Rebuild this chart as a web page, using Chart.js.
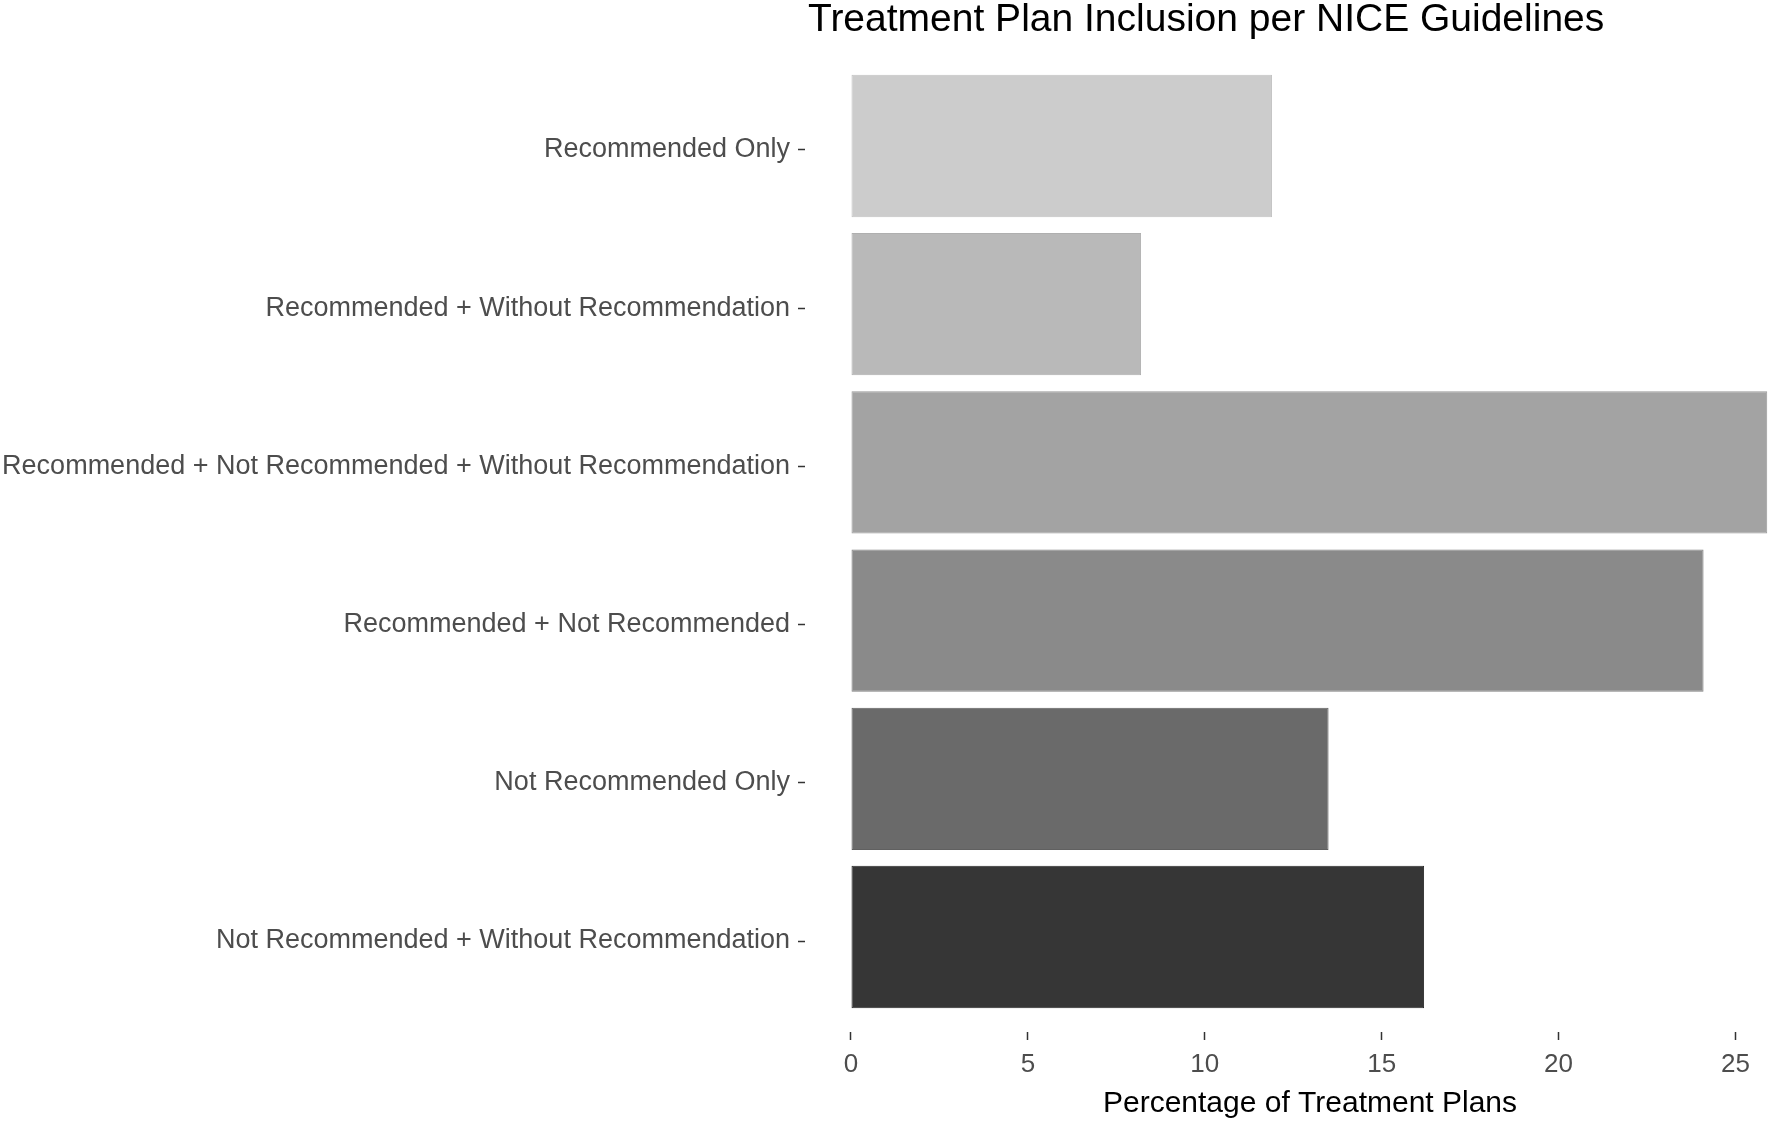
<!DOCTYPE html>
<html>
<head>
<meta charset="utf-8">
<script src="https://cdn.jsdelivr.net/npm/chart.js@4/dist/chart.umd.min.js"></script>
<style>
    html, body { margin: 0; padding: 0; background: #fff; overflow: hidden; }
    #wrap { width: 1815px; height: 1122px; }
</style>
</head>
<body>
<div id="wrap"><canvas id="chart"></canvas></div>
<script>
//Horizontal bars, ggplot look. The panel runs past the right edge of
//the window (the reference is cropped there), so the canvas is wider
//than the page and the overflow is hidden.

const CATEGORIES = [
    'Recommended Only',
    'Recommended + Without Recommendation',
    'Recommended + Not Recommended + Without Recommendation',
    'Recommended + Not Recommended',
    'Not Recommended Only',
    'Not Recommended + Without Recommendation',
];
const PERCENTAGES = [11.9, 8.2, 25.9, 24.1, 13.5, 16.2];
const BAR_COLORS  = ['#cccccc', '#b9b9b9', '#a3a3a3', '#8a8a8a', '#6a6a6a', '#363636'];
const EDGE_COLORS = ['#c2c2c2', '#afafaf', '#999999', '#808080', '#606060', '#2a2a2a'];
const X_TICKS     = [0, 5, 10, 15, 20, 25];

const TITLE   = 'Treatment Plan Inclusion per NICE Guidelines';
const X_TITLE = 'Percentage of Treatment Plans';
const FONT    = '"Liberation Sans", Arial, sans-serif';

//ggplot puts the title flush with the panel's left edge
const panelTitle = {
    id: 'panel-title',
    afterDraw(chart)
    {
        const ctx = chart.ctx;
        ctx.save();
        ctx.fillStyle = '#000';
        ctx.font = `39px ${FONT}`;
        ctx.textAlign = 'left';
        ctx.textBaseline = 'alphabetic';
        ctx.fillText(TITLE, chart.chartArea.left + 3, 31);
        ctx.restore();
    },
};

//Category positions 1..6 on a linear scale so the ends get ggplot's
//0.6 expansion instead of Chart.js' 0.5 offset. The label axis sits a
//hair lower than the bar axis, as in the reference.
const Y_MIN = 0.4;
const Y_MAX = 6.6;
const LABEL_SHIFT = 0.025;
const categoryTicks = (axis) =>
{
    axis.ticks = CATEGORIES.map((_, i) => ({ value: i + 1 }));
};

new Chart(document.getElementById('chart'), {
    type: 'bar',
    data: {
        datasets: [{
            data: PERCENTAGES.map((v, i) => ({ x: v, y: i + 1 })),
            backgroundColor: BAR_COLORS,
            borderColor: EDGE_COLORS,
            borderWidth: 1,
            borderSkipped: false,
            categoryPercentage: 0.9,
            barPercentage: 1.0,
            xAxisID: 'x',
            yAxisID: 'y',
        }],
    },
    options: {
        indexAxis: 'y',
        responsive: true,
        maintainAspectRatio: false,
        animation: false,
        layout: { padding: { top: 51, left: 0, right: 0, bottom: 0 } },
        plugins: {
            legend: { display: false },
            tooltip: { enabled: false },
        },
        scales: {
            x: {
                type: 'linear',
                min: -1.3,
                max: 27.25,
                afterBuildTicks: (axis) =>
                {
                    axis.ticks = X_TICKS.map((v) => ({ value: v }));
                },
                afterFit: (axis) => { axis.height = 90; },
                border: { display: false },
                grid: {
                    drawOnChartArea: false,
                    tickLength: 8,
                    tickColor: '#333',
                    tickWidth: 1.5,
                },
                ticks: {
                    color: '#4d4d4d',
                    font: { family: FONT, size: 26 },
                    padding: 9,
                    maxRotation: 0,
                    callback: (v) => String(v),
                },
                title: {
                    display: true,
                    text: X_TITLE,
                    color: '#000',
                    font: { family: FONT, size: 30 },
                    padding: { top: 0, bottom: 0 },
                },
            },
            y: {
                type: 'linear',
                display: false,
                min: Y_MIN,
                max: Y_MAX,
                reverse: true,
                offset: false,
                afterBuildTicks: categoryTicks,
            },
            yLabels: {
                type: 'linear',
                position: 'left',
                min: Y_MIN - LABEL_SHIFT,
                max: Y_MAX - LABEL_SHIFT,
                reverse: true,
                offset: false,
                afterBuildTicks: categoryTicks,
                afterFit: (axis) => { axis.width = 805; },
                border: { display: false },
                grid: {
                    offset: false,
                    drawOnChartArea: false,
                    tickLength: 7,
                    tickColor: '#333',
                    tickWidth: 1.5,
                },
                ticks: {
                    color: '#4d4d4d',
                    font: { family: FONT, size: 27 },
                    padding: 8,
                    callback: (v) => CATEGORIES[v - 1] || '',
                },
            },
        },
    },
    plugins: [panelTitle],
});
</script>
</body>
</html>
